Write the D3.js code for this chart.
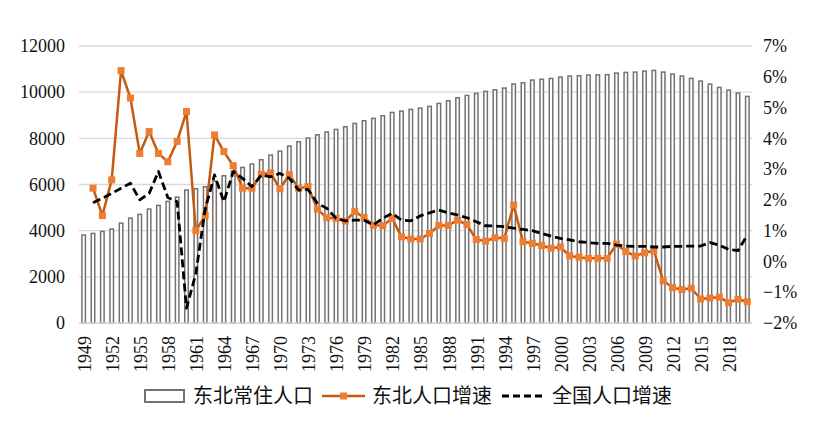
<!DOCTYPE html>
<html>
<head>
<meta charset="utf-8">
<script src="https://cdn.jsdelivr.net/npm/d3@7"></script>
<style>
  html, body { margin: 0; padding: 0; background: #fff; }
  svg { display: block; }
</style>
</head>
<body>
<svg id="chart" width="820" height="428"></svg>
<script>
const years = [1949,1950,1951,1952,1953,1954,1955,1956,1957,1958,1959,1960,1961,1962,1963,1964,1965,1966,1967,1968,1969,1970,1971,1972,1973,1974,1975,1976,1977,1978,1979,1980,1981,1982,1983,1984,1985,1986,1987,1988,1989,1990,1991,1992,1993,1994,1995,1996,1997,1998,1999,2000,2001,2002,2003,2004,2005,2006,2007,2008,2009,2010,2011,2012,2013,2014,2015,2016,2017,2018,2019,2020];

// 东北常住人口 (万人)
const population = [3843,3913,4000,4101,4361,4578,4736,4968,5126,5300,5487,5791,5848,5935,6180,6411,6620,6771,6918,7105,7307,7480,7697,7884,8044,8187,8303,8418,8534,8678,8794,8895,9010,9155,9213,9285,9343,9415,9545,9660,9790,9891,9978,10064,10137,10210,10383,10440,10556,10590,10628,10686,10729,10745,10772,10780,10790,10859,10888,10902,10945,10974,10902,10816,10729,10628,10512,10383,10238,10122,9993,9848];

// growth series start in 1950
const growthYears = years.slice(1);
// 东北人口增速 (%)
const neGrowth = [2.38,1.49,2.65,6.20,5.31,3.51,4.22,3.51,3.24,3.90,4.87,1.00,1.49,4.11,3.57,3.11,2.38,2.38,2.83,2.88,2.36,2.82,2.38,2.43,1.70,1.42,1.40,1.31,1.62,1.43,1.18,1.16,1.40,0.80,0.73,0.73,0.91,1.17,1.17,1.34,1.20,0.71,0.66,0.77,0.75,1.83,0.64,0.59,0.52,0.43,0.47,0.18,0.14,0.10,0.10,0.10,0.56,0.32,0.18,0.28,0.35,-0.63,-0.85,-0.91,-0.87,-1.22,-1.19,-1.16,-1.34,-1.23,-1.31];
// 全国人口增速 (%)
const cnGrowth = [1.91,2.05,2.21,2.38,2.54,2.00,2.21,2.92,2.08,1.94,-1.52,-0.39,1.70,2.81,1.94,2.92,2.70,2.43,2.81,2.75,2.86,2.70,2.32,2.34,1.89,1.73,1.40,1.32,1.34,1.34,1.18,1.40,1.56,1.34,1.32,1.48,1.58,1.67,1.58,1.51,1.42,1.29,1.16,1.15,1.13,1.08,1.04,1.00,0.91,0.82,0.75,0.70,0.64,0.61,0.59,0.59,0.53,0.50,0.49,0.49,0.47,0.47,0.49,0.49,0.50,0.50,0.61,0.53,0.39,0.35,0.86];

const leftTicks = [0,2000,4000,6000,8000,10000,12000];
const rightTicks = [-2,-1,0,1,2,3,4,5,6,7];
const rightTickLabels = ["\u22122%","\u22121%","0%","1%","2%","3%","4%","5%","6%","7%"];
const xLabelYears = [1949,1952,1955,1958,1961,1964,1967,1970,1973,1976,1979,1982,1985,1988,1991,1994,1997,2000,2003,2006,2009,2012,2015,2018];
const legendNames = ["东北常住人口","东北人口增速","全国人口增速"];

const NUMFONT = '"Liberation Serif", "Times New Roman", serif';
const CJKFONT = '"Noto Sans CJK SC", "Noto Sans CJK JP", sans-serif';

const svg = d3.select("#chart");
const L = 79, R = 752, T = 46, B = 323;

const x = d3.scaleBand().domain(years).range([L, R]).paddingInner(0.5).paddingOuter(0.25);
const yL = d3.scaleLinear().domain([0, 12000]).range([B, T]);
const yR = d3.scaleLinear().domain([-2, 7]).range([B, T]);
const cx = d => x(d) + x.bandwidth() / 2;

// gridlines
svg.append("g").selectAll("line").data(leftTicks).join("line")
  .attr("x1", L).attr("x2", R)
  .attr("y1", d => yL(d)).attr("y2", d => yL(d))
  .attr("stroke", "#d9d9d9").attr("stroke-width", 1.3);

// left axis labels
const axL = d3.axisLeft(yL).tickValues(leftTicks).tickSize(0).tickPadding(0).tickFormat(d3.format("d"));
const gL = svg.append("g").attr("transform", `translate(65,0)`).call(axL);
gL.select(".domain").remove();
gL.selectAll("text").style("font-family", NUMFONT).style("font-size", "18px").attr("fill", "#111");

// right axis labels
const axR = d3.axisRight(yR).tickValues(rightTicks).tickSize(0).tickPadding(0)
  .tickFormat(d => rightTickLabels[rightTicks.indexOf(d)]);
const gR = svg.append("g").attr("transform", `translate(763,0)`).call(axR);
gR.select(".domain").remove();
gR.selectAll("text").style("font-family", NUMFONT).style("font-size", "18px").attr("fill", "#111");

// bars
const barW = 5, sw = 1.5;
svg.append("g").selectAll("rect").data(years).join("rect")
  .attr("x", (d) => cx(d) - barW / 2 + sw / 2)
  .attr("width", barW - sw)
  .attr("y", (d, i) => yL(population[i]) + sw / 2)
  .attr("height", (d, i) => Math.max(0, yL(0) - yL(population[i]) - sw / 2))
  .attr("fill", "#fff").attr("stroke", "#767171").attr("stroke-width", sw);

// bottom axis baseline
svg.append("line").attr("x1", L).attr("x2", R).attr("y1", B).attr("y2", B)
  .attr("stroke", "#d9d9d9").attr("stroke-width", 1.3);

// x labels
svg.append("g").selectAll("text").data(xLabelYears).join("text")
  .attr("transform", d => `translate(${cx(d) + 1},336) rotate(-90)`)
  .attr("text-anchor", "end").attr("dy", "0.35em")
  .style("font-family", NUMFONT).style("font-size", "18px").attr("fill", "#111")
  .text(d => d);

// lines
const line = d3.line().x(d => cx(d[0])).y(d => yR(d[1]));
const neData = growthYears.map((y, i) => [y, neGrowth[i]]);
const cnData = growthYears.map((y, i) => [y, cnGrowth[i]]);

svg.append("path").datum(neData).attr("d", line)
  .attr("fill", "none").attr("stroke", "#C55A11").attr("stroke-width", 2.5).attr("stroke-linejoin", "round");
const ms = 7;
svg.append("g").selectAll("rect").data(neData).join("rect")
  .attr("x", d => cx(d[0]) - ms / 2).attr("y", d => yR(d[1]) - ms / 2)
  .attr("width", ms).attr("height", ms).attr("fill", "#ED7D31");

svg.append("path").datum(cnData).attr("d", line)
  .attr("fill", "none").attr("stroke", "#000").attr("stroke-width", 2.8)
  .attr("stroke-dasharray", "8,4").attr("stroke-linejoin", "round");

// legend
const lg = svg.append("g");
const ly = 396;
lg.append("rect").attr("x", 145).attr("y", 390).attr("width", 39).attr("height", 12)
  .attr("fill", "#fff").attr("stroke", "#767171").attr("stroke-width", 2);
lg.append("text").attr("x", 193).attr("y", ly).attr("dy", "0.36em")
  .style("font-family", CJKFONT).style("font-size", "20px").attr("fill", "#111").text(legendNames[0]);

lg.append("line").attr("x1", 322).attr("x2", 365).attr("y1", ly).attr("y2", ly)
  .attr("stroke", "#C55A11").attr("stroke-width", 2.5);
lg.append("rect").attr("x", 343.5 - ms / 2).attr("y", ly - ms / 2).attr("width", ms).attr("height", ms).attr("fill", "#ED7D31");
lg.append("text").attr("x", 372).attr("y", ly).attr("dy", "0.36em")
  .style("font-family", CJKFONT).style("font-size", "20px").attr("fill", "#111").text(legendNames[1]);

lg.append("line").attr("x1", 502).attr("x2", 545).attr("y1", ly).attr("y2", ly)
  .attr("stroke", "#000").attr("stroke-width", 2.8).attr("stroke-dasharray", "7,4");
lg.append("text").attr("x", 552).attr("y", ly).attr("dy", "0.36em")
  .style("font-family", CJKFONT).style("font-size", "20px").attr("fill", "#111").text(legendNames[2]);
</script>
</body>
</html>
